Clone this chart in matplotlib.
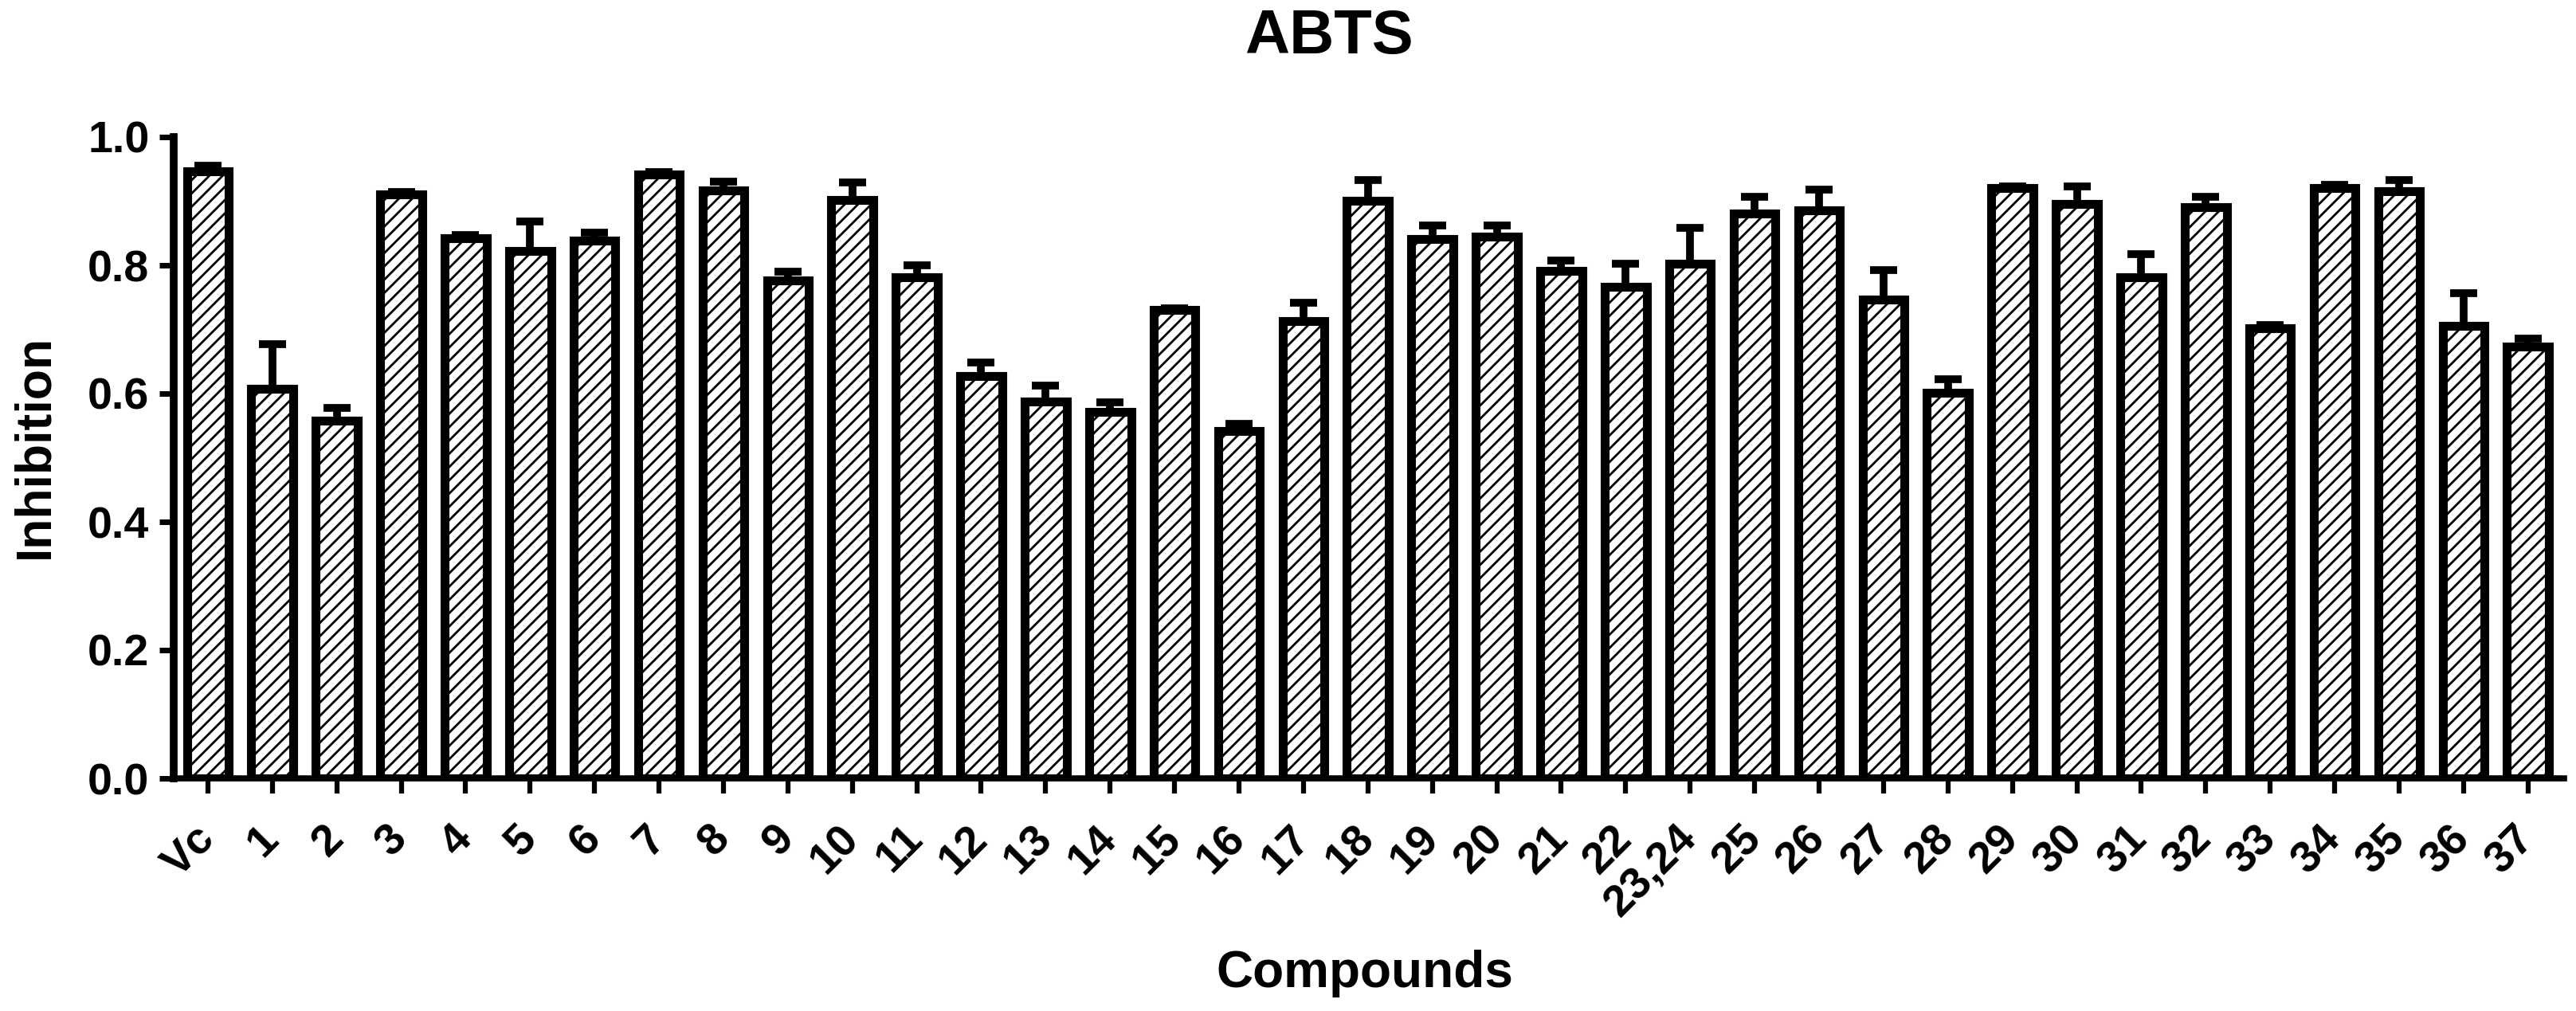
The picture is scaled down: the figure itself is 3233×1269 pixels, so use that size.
import numpy as np
import matplotlib
matplotlib.use("Agg")
import matplotlib.pyplot as plt

# ABTS radical scavenging, mean inhibition with upper error bars
compounds = ["Vc", "1", "2", "3", "4", "5", "6", "7", "8", "9", "10",
             "11", "12", "13", "14", "15", "16", "17", "18", "19", "20",
             "21", "22", "23,24", "25", "26", "27", "28", "29", "30",
             "31", "32", "33", "34", "35", "36", "37"]
inhibition = [0.947, 0.607, 0.558, 0.911, 0.842, 0.822, 0.838, 0.942, 0.917,
              0.777, 0.902, 0.781, 0.627, 0.588, 0.572, 0.731, 0.542, 0.713,
              0.901, 0.841, 0.845, 0.791, 0.766, 0.802, 0.881, 0.886, 0.746,
              0.601, 0.921, 0.896, 0.781, 0.891, 0.702, 0.921, 0.916, 0.706,
              0.673]
sem = [0.008, 0.070, 0.020, 0.003, 0.005, 0.046, 0.013, 0.003, 0.014,
       0.013, 0.027, 0.019, 0.021, 0.025, 0.014, 0.002, 0.011, 0.029,
       0.032, 0.021, 0.017, 0.017, 0.036, 0.056, 0.026, 0.032, 0.047,
       0.021, 0.002, 0.027, 0.037, 0.016, 0.005, 0.005, 0.017, 0.051,
       0.013]
yticks = [0.0, 0.2, 0.4, 0.6, 0.8, 1.0]

plt.rcParams['font.family'] = ['Liberation Sans', 'DejaVu Sans']
plt.rcParams['font.weight'] = 'bold'
plt.rcParams['hatch.linewidth'] = 2.0
plt.rcParams['hatch.color'] = 'black'

W, H = 3233, 1269
fig = plt.figure(figsize=(W / 100, H / 100), dpi=100)
ax = fig.add_axes([218 / W, 1 - 977 / H, (3218 - 218) / W, (977 - 172) / H])

x = np.arange(len(compounds))
ax.bar(x, inhibition, width=0.65, color='white', edgecolor='black',
       linewidth=8, hatch='//', zorder=2)
ax.errorbar(x, inhibition, yerr=[np.zeros(len(sem)), sem], fmt='none',
            ecolor='black', elinewidth=7, capsize=12, capthick=7, zorder=3)

ax.set_xlim(-0.53, 36.56)
ax.set_ylim(0, 1.0)
ax.set_yticks(yticks)
ax.set_yticklabels([f"{v:.1f}" for v in yticks])
ax.set_xticks(x)
ax.set_xticklabels(compounds, rotation=45, ha='right', va='center',
                   rotation_mode='anchor')

for s in ['top', 'right']:
    ax.spines[s].set_visible(False)
ax.spines['left'].set_linewidth(7)
ax.spines['bottom'].set_linewidth(5.5)
ax.tick_params(axis='y', length=13, width=5, pad=9, labelsize=40)
ax.tick_params(axis='x', length=14, width=4.5, pad=35, labelsize=40)

fig.text(1668 / W, 1 - 47 / H, "ABTS", ha='center', va='center',
         fontsize=56, fontweight='bold')
fig.text(44 / W, 1 - 560 / H, "Inhibition", ha='center', va='center',
         rotation=90, fontsize=45, fontweight='bold')
fig.text(1713 / W, 1 - 1222 / H, "Compounds", ha='center', va='center',
         fontsize=46, fontweight='bold')

fig.savefig("out.png", dpi=100)
